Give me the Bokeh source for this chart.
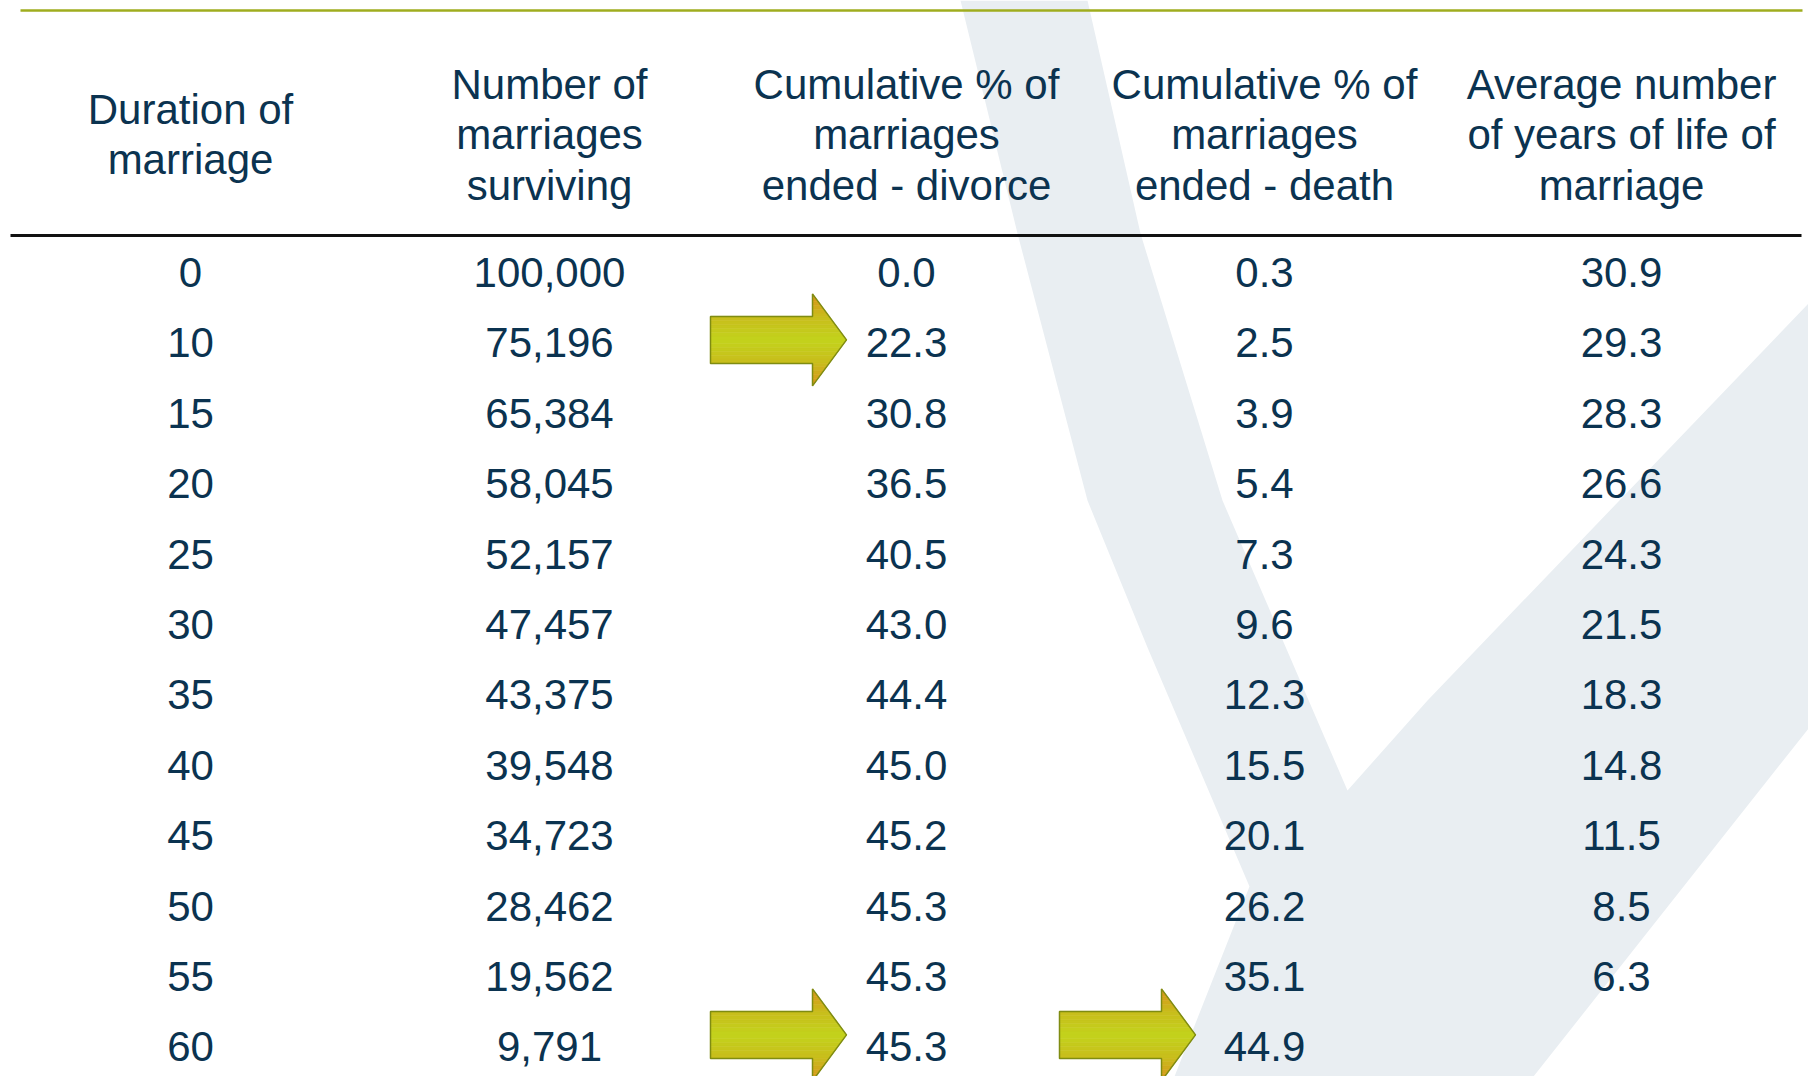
from bokeh.plotting import figure
from bokeh.models import Range1d
from bokeh.core.properties import value
from bokeh.embed import file_html
from bokeh.resources import INLINE

# ---- data ----
headers = [
    "Duration of\nmarriage",
    "Number of\nmarriages\nsurviving",
    "Cumulative % of\nmarriages\nended - divorce",
    "Cumulative % of\nmarriages\nended - death",
    "Average number\nof years of life of\nmarriage",
]
duration = [0, 10, 15, 20, 25, 30, 35, 40, 45, 50, 55, 60]
surviving = [100000, 75196, 65384, 58045, 52157, 47457, 43375, 39548, 34723, 28462, 19562, 9791]
divorce_pct = [0.0, 22.3, 30.8, 36.5, 40.5, 43.0, 44.4, 45.0, 45.2, 45.3, 45.3, 45.3]
death_pct = [0.3, 2.5, 3.9, 5.4, 7.3, 9.6, 12.3, 15.5, 20.1, 26.2, 35.1, 44.9]
avg_years = [30.9, 29.3, 28.3, 26.6, 24.3, 21.5, 18.3, 14.8, 11.5, 8.5, 6.3, None]
# highlighted cells (row index, column index)
highlights = [(1, 2), (11, 2), (11, 3)]

# ---- layout / style ----
FONT = "Liberation Sans"
TXT = "#0b3350"
W, H = 1808, 1076
col_x = [190, 549, 906, 1264, 1621]
row_y0, row_dy = 272, 70.4
head_cy, head_dy = 134, 50.5

p = figure(width=W, height=H, x_range=Range1d(0, W), y_range=Range1d(H, 0),
           output_backend="svg", toolbar_location=None, x_axis_type=None, y_axis_type=None,
           min_border=0, outline_line_color=None, background_fill_color="white",
           border_fill_color="white")
p.grid.visible = False

# background check-mark swoosh
vx = [960, 1017, 1087, 1147, 1249, 1174, 1533, 1808, 1808, 1427, 1347, 1222, 1140, 1087]
vy = [0, 233, 500, 647, 886, 1076, 1076, 728, 303, 700, 790, 500, 233, 0]
p.patch(vx, vy, fill_color="#e9eef2", line_color=None)

# rules
p.line([20, 1802], [10, 10], line_color="#9fad1e", line_width=2.5)
p.line([10, 1801], [235, 235], line_color="#111111", line_width=3)

# header text
hx, hy, ht = [], [], []
for ci, h in enumerate(headers):
    lines = h.split("\n")
    n = len(lines)
    for j, ln in enumerate(lines):
        hx.append(col_x[ci])
        hy.append(head_cy + (j - (n - 1) / 2) * head_dy)
        ht.append(ln)
p.text(x=hx, y=hy, text=ht, text_font=value(FONT), text_font_size="42px",
       text_color=TXT, text_align="center", text_baseline="middle")

# body text
bx, by, bt = [], [], []
for i in range(len(duration)):
    y = row_y0 + i * row_dy
    cells = [str(duration[i]), "{:,}".format(surviving[i]), "{:.1f}".format(divorce_pct[i]),
             "{:.1f}".format(death_pct[i]),
             "" if avg_years[i] is None else "{:.1f}".format(avg_years[i])]
    for ci, c in enumerate(cells):
        if c:
            bx.append(col_x[ci]); by.append(y); bt.append(c)
p.text(x=bx, y=by, text=bt, text_font=value(FONT), text_font_size="42px",
       text_color=TXT, text_align="center", text_baseline="middle")

# arrows
def mix(c1, c2, t):
    a = [int(c1[k:k + 2], 16) for k in (1, 3, 5)]
    b = [int(c2[k:k + 2], 16) for k in (1, 3, 5)]
    return "#%02x%02x%02x" % tuple(int(round(a[k] + (b[k] - a[k]) * t)) for k in range(3))

def shade(d):
    if d < 0.5:
        return mix("#c3d31c", "#c8bd1c", d / 0.5)
    return mix("#c8bd1c", "#d9921a", (d - 0.5) / 0.5)

tip_off = {2: -60, 3: -69}
dy_off = [-3, -12, -12]
HH, SH, HL, TL = 46, 23.5, 34, 136
axs, ays, acol = [], [], []
oxs, oys = [], []
for k, (ri, ci) in enumerate(highlights):
    tx = col_x[ci] + tip_off[ci]
    ty = row_y0 + ri * row_dy + dy_off[k]
    base = tx - HL
    left = tx - TL
    nb = 12
    for sgn in (-1, 1):
        edges = sorted(set([i * HH / nb for i in range(nb + 1)] + [SH]))
        for a, b in zip(edges[:-1], edges[1:]):
            lx = left if b <= SH + 1e-9 else base
            xa = tx - a / HH * HL
            xb = tx - b / HH * HL
            axs.append([lx, xa, xb, lx])
            ays.append([ty + sgn * a, ty + sgn * a, ty + sgn * b, ty + sgn * b])
            acol.append(shade((a + b) / 2 / HH))
    oxs.append([left, base, base, tx, base, base, left])
    oys.append([ty - SH, ty - SH, ty - HH, ty, ty + HH, ty + SH, ty + SH])
p.patches(xs=axs, ys=ays, fill_color=acol, line_color=acol, line_width=0.6)
p.patches(xs=oxs, ys=oys, fill_color=None, line_color="#7f8c12", line_width=1.5)

open("out.html", "w").write(file_html(p, INLINE))
